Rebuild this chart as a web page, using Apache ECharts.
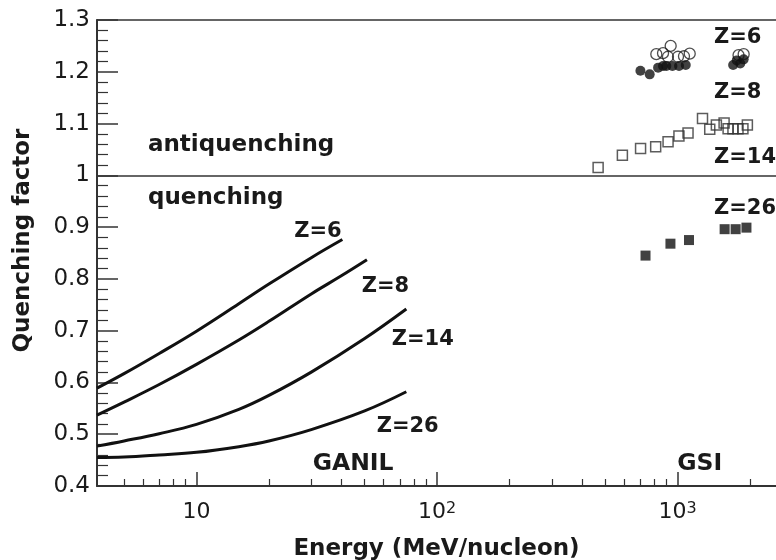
<!DOCTYPE html>
<html>
<head>
<meta charset="utf-8">
<script src="https://cdn.jsdelivr.net/npm/echarts@6/dist/echarts.min.js"></script>
<style>
html,body{margin:0;padding:0;background:#fff;}
#chart{width:776px;height:560px;}
</style>
</head>
<body>
<div id="chart"></div>
<script>
// ---- axis ranges and ticks ----
const xMin = 3.86, xMax = 2562;
const yMin = 0.4, yMax = 1.3;
const xMajorTicks = [10, 100, 1000];
const xMinorTicks = [5, 6, 7, 8, 9, 20, 30, 40, 50, 60, 70, 80, 90, 200, 300, 400, 500, 600, 700, 800, 900, 2000];
const xTickLabels = {10: '10', 100: '10{s|2}', 1000: '10{s|3}'};

// ---- GANIL curves ----
const energyZ6 = [3.86, 5, 7, 10, 15, 20, 30, 40.4];
const quenchZ6 = [0.589, 0.617, 0.656, 0.699, 0.752, 0.790, 0.841, 0.876];
const energyZ8 = [3.86, 5, 7, 10, 15, 20, 30, 40, 51.1];
const quenchZ8 = [0.537, 0.562, 0.596, 0.635, 0.682, 0.718, 0.771, 0.806, 0.837];
const energyZ14 = [3.86, 5, 7, 10, 15, 20, 30, 50, 74.5];
const quenchZ14 = [0.477, 0.487, 0.501, 0.519, 0.548, 0.575, 0.620, 0.685, 0.742];
const energyZ26 = [3.86, 5, 7, 10, 15, 20, 30, 50, 74.5];
const quenchZ26 = [0.455, 0.456, 0.460, 0.465, 0.476, 0.487, 0.509, 0.545, 0.582];

// ---- GSI points ----
const gsiZ6OpenE = [815, 869, 935, 911, 1003, 1062, 1122, 1790, 1880];
const gsiZ6OpenQ = [1.234, 1.236, 1.250, 1.229, 1.229, 1.230, 1.235, 1.232, 1.234];
const gsiZ6FilledE = [700, 765, 829, 869, 897, 951, 1013, 1080, 1700, 1760, 1820, 1880];
const gsiZ6FilledQ = [1.202, 1.195, 1.208, 1.211, 1.211, 1.211, 1.211, 1.213, 1.213, 1.222, 1.216, 1.224];
const gsiZ8E = [467, 589, 701, 810, 912, 1012, 1104, 1268, 1359, 1448, 1559, 1620, 1697, 1781, 1867, 1948];
const gsiZ8Q = [1.015, 1.039, 1.052, 1.055, 1.065, 1.076, 1.082, 1.110, 1.089, 1.097, 1.101, 1.090, 1.090, 1.090, 1.090, 1.097];
const gsiZ26E = [735, 933, 1114, 1567, 1741, 1931];
const gsiZ26Q = [0.845, 0.868, 0.875, 0.896, 0.896, 0.899];

// ---- annotations (text, anchor in data coords: left edge / vertical middle) ----
const noteTexts = ['antiquenching', 'quenching', 'Z=6', 'Z=8', 'Z=14', 'Z=26', 'GANIL', 'GSI', 'Z=6', 'Z=8', 'Z=14', 'Z=26'];
const noteE = [6.285, 6.285, 25.5, 48.6, 64.8, 56.1, 30.4, 996, 1416, 1416, 1416, 1416];
const noteQ = [1.0585, 0.956, 0.8915, 0.7853, 0.6821, 0.5149, 0.4418, 0.4418, 1.266, 1.1598, 1.0342, 0.9357];
const noteSize = [23, 23, 21, 21, 21, 21, 23.5, 23.5, 21, 21, 21, 21];

const FONT = 'DejaVu Sans';
const INK = '#1a1a1a';

const zip = (a, b) => a.map((v, i) => [v, b[i]]);

const curveStyle = {color: '#111', width: 3};
function curve(e, q) {
  return {type: 'line', data: zip(e, q), smooth: 0.4, showSymbol: false, symbol: 'none',
          lineStyle: curveStyle, itemStyle: {color: '#111'}, z: 3, silent: true};
}

const baseX = {type: 'log', logBase: 10, min: xMin, max: xMax, gridIndex: 0, splitLine: {show: false}};

const option = {
  animation: false,
  backgroundColor: '#fff',
  grid: {left: 97, right: 0, top: 20, bottom: 74, containLabel: false, outerBoundsMode: 'none'},
  xAxis: [
    Object.assign({}, baseX, {
      position: 'bottom',
      name: 'Energy (MeV/nucleon)', nameLocation: 'middle', nameGap: 52,
      nameTextStyle: {fontFamily: FONT, fontWeight: 'bold', fontSize: 23, color: INK},
      axisLine: {show: true, onZero: false, lineStyle: {color: '#333', width: 2}},
      axisTick: {show: true, inside: true, length: 14, customValues: xMajorTicks, lineStyle: {color: '#333', width: 1.5}},
      axisLabel: {show: true, customValues: xMajorTicks, margin: 15, color: INK,
        fontFamily: FONT, fontSize: 22,
        formatter: v => xTickLabels[Math.round(v)] || '',
        rich: {s: {fontFamily: FONT, fontSize: 16, color: INK, verticalAlign: 'top', lineHeight: 16}}},
      minorTick: {show: false}
    }),
    Object.assign({}, baseX, {
      position: 'bottom',
      axisLine: {show: false, onZero: false},
      axisTick: {show: true, inside: true, length: 7, customValues: xMinorTicks, lineStyle: {color: '#333', width: 1.2}},
      axisLabel: {show: false}
    }),
    Object.assign({}, baseX, {
      position: 'top',
      axisLine: {show: true, onZero: false, lineStyle: {color: '#333', width: 1.5}},
      axisTick: {show: false},
      axisLabel: {show: false}
    })
  ],
  yAxis: {
    type: 'value', min: yMin, max: yMax, interval: 0.1,
    name: 'Quenching factor', nameLocation: 'middle', nameGap: 62,
    nameTextStyle: {fontFamily: FONT, fontWeight: 'bold', fontSize: 23, color: INK, padding: [0, 0, 0, 25]},
    axisLine: {show: true, onZero: false, lineStyle: {color: '#333', width: 2}},
    axisTick: {show: true, inside: true, length: 21, lineStyle: {color: '#333', width: 1.5}},
    minorTick: {show: true, splitNumber: 5, length: 11, lineStyle: {color: '#333', width: 1.2}},
    axisLabel: {margin: 7, fontFamily: FONT, fontSize: 23, color: INK,
      formatter: v => String(Math.round(v * 10) / 10)},
    splitLine: {show: false},
    minorSplitLine: {show: false}
  },
  series: [
    Object.assign(curve(energyZ6, quenchZ6), {
      markLine: {silent: true, symbol: 'none', label: {show: false},
        lineStyle: {color: '#333', width: 1.5, type: 'solid'}, data: [{yAxis: 1}]}
    }),
    curve(energyZ8, quenchZ8),
    curve(energyZ14, quenchZ14),
    curve(energyZ26, quenchZ26),
    {type: 'scatter', data: zip(gsiZ6OpenE, gsiZ6OpenQ), symbol: 'circle', symbolSize: 11,
     itemStyle: {color: 'rgba(255,255,255,0)', borderColor: '#222', borderWidth: 1.3}, z: 4, silent: true},
    {type: 'scatter', data: zip(gsiZ6FilledE, gsiZ6FilledQ), symbol: 'circle', symbolSize: 10,
     itemStyle: {color: '#111'}, z: 5, silent: true},
    {type: 'scatter', data: zip(gsiZ8E, gsiZ8Q), symbol: 'rect', symbolSize: 10,
     itemStyle: {color: 'rgba(255,255,255,0)', borderColor: '#333', borderWidth: 1.5}, z: 4, silent: true},
    {type: 'scatter', data: zip(gsiZ26E, gsiZ26Q), symbol: 'rect', symbolSize: 10,
     itemStyle: {color: '#111'}, z: 4, silent: true},
    {type: 'scatter', symbolSize: 0, silent: true, z: 6,
     data: noteTexts.map((t, i) => ({
       value: [noteE[i], noteQ[i]], name: t,
       label: {show: true, position: 'right', distance: 0, formatter: t,
         fontFamily: FONT, fontWeight: 'bold', fontSize: noteSize[i], color: INK,
         textBorderWidth: 0, textBorderColor: 'transparent', opacity: 1}
     })),
     itemStyle: {color: '#000', opacity: 1}}
  ]
};

const chart = echarts.init(document.getElementById('chart'), null, {renderer: 'canvas'});
chart.setOption(option);
</script>
</body>
</html>
